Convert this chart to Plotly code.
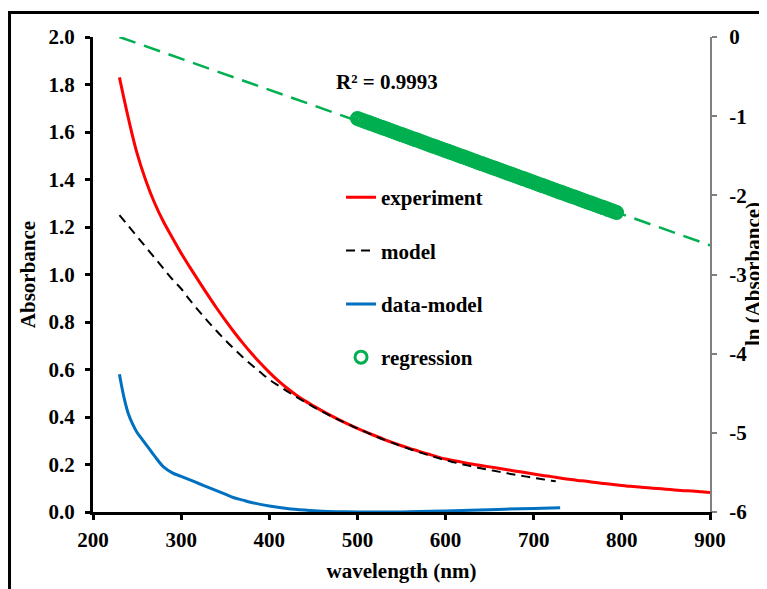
import plotly.graph_objects as go

# ---------------- data ----------------
exp_wl = [230, 240, 250, 260, 270, 280, 290, 300, 310, 320, 330, 340, 350, 360, 370, 380, 390,
          400, 410, 420, 430, 440, 450, 460, 470, 480, 490, 500, 510, 520, 530, 540, 550, 560,
          570, 580, 590, 600, 610, 620, 630, 640, 650, 660, 670, 680, 690, 700, 710, 720, 730,
          740, 750, 760, 770, 780, 790, 800, 810, 820, 830, 840, 850, 860, 870, 880, 890, 900]
exp_abs = [1.83, 1.66, 1.51, 1.395, 1.30, 1.222, 1.155, 1.09, 1.03, 0.972, 0.915, 0.86, 0.808,
           0.758, 0.711, 0.667, 0.626, 0.588, 0.553, 0.522, 0.494, 0.469, 0.447, 0.426, 0.406,
           0.387, 0.369, 0.352, 0.336, 0.321, 0.306, 0.292, 0.279, 0.267, 0.255, 0.244, 0.233,
           0.223, 0.216, 0.209, 0.202, 0.196, 0.190, 0.184, 0.178, 0.172, 0.166, 0.160, 0.154,
           0.149, 0.143, 0.138, 0.133, 0.129, 0.124, 0.120, 0.116, 0.112, 0.108, 0.105, 0.102,
           0.099, 0.096, 0.093, 0.090, 0.088, 0.085, 0.082]

model_wl = [230, 240, 250, 260, 270, 280, 290, 300, 310, 320, 330, 340, 350, 360, 370, 380, 390,
            400, 410, 420, 430, 440, 450, 460, 470, 480, 490, 500, 510, 520, 530, 540, 550, 560,
            570, 580, 590, 600, 610, 620, 630, 640, 650, 660, 670, 680, 690, 700, 710, 720, 725]
model_abs = [1.25, 1.205, 1.16, 1.115, 1.07, 1.025, 0.98, 0.94, 0.892, 0.847, 0.804, 0.763, 0.724,
             0.687, 0.652, 0.619, 0.588, 0.558, 0.533, 0.509, 0.486, 0.464, 0.443, 0.423, 0.404,
             0.386, 0.369, 0.352, 0.336, 0.320, 0.305, 0.291, 0.277, 0.264, 0.252, 0.240, 0.229,
             0.218, 0.209, 0.200, 0.192, 0.184, 0.177, 0.170, 0.163, 0.156, 0.150, 0.144, 0.138,
             0.132, 0.129]

diff_wl = [230, 235, 240, 245, 250, 255, 260, 270, 280, 290, 300, 310, 320, 330, 340, 350, 360,
           370, 380, 390, 400, 420, 440, 460, 480, 500, 550, 600, 650, 700, 730]
diff_abs = [0.58, 0.485, 0.415, 0.37, 0.335, 0.31, 0.285, 0.235, 0.19, 0.165, 0.15, 0.135, 0.12,
            0.105, 0.09, 0.075, 0.06, 0.05, 0.04, 0.032, 0.025, 0.015, 0.008, 0.003, 0.001, 0.0,
            0.0, 0.004, 0.010, 0.015, 0.018]

reg_wl = list(range(500, 797, 3))
reg_ln = [-1.030, -1.042, -1.054, -1.066, -1.078, -1.091, -1.103, -1.115, -1.127, -1.139,
          -1.151, -1.163, -1.175, -1.187, -1.199, -1.212, -1.224, -1.236, -1.248, -1.260,
          -1.272, -1.284, -1.296, -1.308, -1.320, -1.333, -1.345, -1.357, -1.369, -1.381,
          -1.393, -1.405, -1.417, -1.429, -1.441, -1.454, -1.466, -1.478, -1.490, -1.502,
          -1.514, -1.526, -1.538, -1.550, -1.562, -1.575, -1.587, -1.599, -1.611, -1.623,
          -1.635, -1.647, -1.659, -1.671, -1.683, -1.696, -1.708, -1.720, -1.732, -1.744,
          -1.756, -1.768, -1.780, -1.792, -1.804, -1.817, -1.829, -1.841, -1.853, -1.865,
          -1.877, -1.889, -1.901, -1.913, -1.925, -1.938, -1.950, -1.962, -1.974, -1.986,
          -1.998, -2.010, -2.022, -2.034, -2.046, -2.059, -2.071, -2.083, -2.095, -2.107,
          -2.119, -2.131, -2.143, -2.155, -2.167, -2.180, -2.192, -2.204, -2.216]

trend_wl = [230, 900]
trend_ln = [0.0, -2.63]

x_ticks = [200, 300, 400, 500, 600, 700, 800, 900]
y_ticks = [0.0, 0.2, 0.4, 0.6, 0.8, 1.0, 1.2, 1.4, 1.6, 1.8, 2.0]
y2_ticks = [0, -1, -2, -3, -4, -5, -6]
y2_labels = ["0", "-1", "-2", "-3", "-4", "-5", "-6"]

r2_text = "R² = 0.9993"
y2_title = "ln (Absorbance)"

# ---------------- figure ----------------
FONT = "Liberation Serif"
F = dict(family=FONT, size=21, color="black", weight="bold")
fig = go.Figure()

fig.add_trace(go.Scatter(x=trend_wl, y=trend_ln, yaxis="y2", mode="lines",
                         line=dict(color="#00B050", width=2.5, dash="17px,9px"),
                         showlegend=False, hoverinfo="skip"))
fig.add_trace(go.Scatter(x=exp_wl, y=exp_abs, mode="lines", name="experiment",
                         legendgroup="a", line=dict(color="#FF0000", width=3, shape="spline")))
fig.add_trace(go.Scatter(x=model_wl, y=model_abs, mode="lines", name="model",
                         legendgroup="b", line=dict(color="black", width=2, dash="9px,6px",
                                                    shape="spline")))
fig.add_trace(go.Scatter(x=diff_wl, y=diff_abs, mode="lines", name="data-model",
                         legendgroup="c", line=dict(color="#0070C0", width=3, shape="spline")))
fig.add_trace(go.Scatter(x=reg_wl, y=reg_ln, yaxis="y2", mode="markers", name="regression",
                         legendgroup="d",
                         marker=dict(symbol="circle-open", size=12, color="#00B050",
                                     line=dict(width=3, color="#00B050"))))

# the page body has an 8px default margin, so the plot area is shifted by -8px here
fig.update_layout(
    width=767, height=589,
    margin=dict(l=85, r=65, t=29, b=85, autoexpand=False),
    paper_bgcolor="white", plot_bgcolor="white",
    font=F,
    xaxis=dict(range=[200, 900], tickvals=x_ticks, showgrid=False, zeroline=False,
               showline=True, linecolor="black", linewidth=3, tickfont=F,
               ticks="outside", ticklen=5, tickwidth=3, tickcolor="black",
               ticklabelstandoff=2, automargin=False,
               title=dict(text="wavelength (nm)", standoff=13, font=F)),
    yaxis=dict(range=[0, 2.0], tickvals=y_ticks, tickformat=".1f", showgrid=False,
               zeroline=False, showline=True, linecolor="black", linewidth=3, tickfont=F,
               ticks="outside", ticklen=5, tickwidth=3, tickcolor="black",
               ticklabelstandoff=6, automargin=False,
               title=dict(text="Absorbance", standoff=8, font=F)),
    yaxis2=dict(range=[-6, 0], overlaying="y", side="right", anchor="x",
                tickvals=y2_ticks, ticktext=y2_labels, showgrid=False, zeroline=False,
                showline=True, linecolor="#808080", linewidth=2, tickfont=F,
                ticks="outside", ticklen=5, tickwidth=2, tickcolor="#808080",
                ticklabelstandoff=8, automargin=False),
    legend=dict(x=0.402, y=0.705, xanchor="left", yanchor="top",
                bgcolor="rgba(0,0,0,0)", tracegroupgap=23, font=F),
    annotations=[
        dict(text=r2_text, xref="paper", yref="paper", x=0.4765, y=0.905,
             xanchor="center", yanchor="middle", showarrow=False, font=F),
        dict(text=y2_title, xref="paper", yref="paper", x=1.069, y=0.5,
             xanchor="center", yanchor="middle", textangle=-90, showarrow=False, font=F),
    ],
    shapes=[dict(type="rect", xref="paper", yref="paper", x0=-0.1353, x1=1.2,
                 y0=-0.3, y1=1.0516, line=dict(color="black", width=3),
                 fillcolor="rgba(0,0,0,0)", layer="above")],
)

fig.write_html("out.html")
